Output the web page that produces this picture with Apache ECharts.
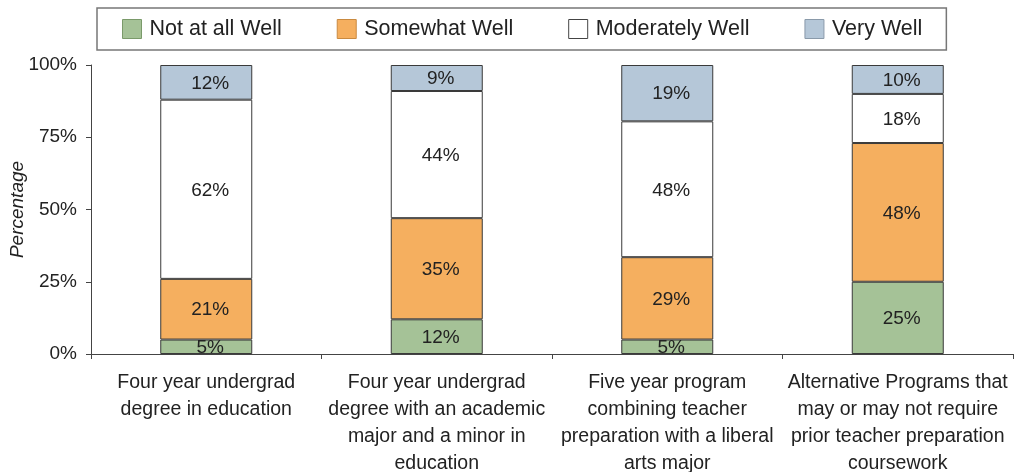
<!DOCTYPE html>
<html>
<head>
<meta charset="utf-8">
<script src="https://cdn.jsdelivr.net/npm/echarts@6/dist/echarts.min.js"></script>
<style>
  html, body { margin: 0; padding: 0; background: #fff; }
  #chart { width: 1016px; height: 472px; }
</style>
</head>
<body>
<div id="chart"></div>
<script>
// categories (x axis)
const categories = [
  'Four year undergrad\ndegree in education',
  'Four year undergrad\ndegree with an academic\nmajor and a minor in\neducation',
  'Five year program\ncombining teacher\npreparation with a liberal\narts major',
  'Alternative Programs that\nmay or may not require\nprior teacher preparation\ncoursework'
]
// bar heights
const notAtAll = [5, 12, 5, 25]
const somewhat = [21, 35, 28.5, 48]
const moderately = [62, 44, 47, 17]
const veryWell = [12, 9, 19.5, 10]
// printed labels
const notAtAllLbl = [5, 12, 5, 25]
const somewhatLbl = [21, 35, 29, 48]
const moderatelyLbl = [62, 44, 48, 18]
const veryWellLbl = [12, 9, 19, 10]

const chart = echarts.init(document.getElementById('chart'))

const font = 'Liberation Sans, Arial, sans-serif'

function seg (name, data, labels, color) {
  return {
    name: name,
    type: 'bar',
    stack: 'total',
    barWidth: 92,
    data: data,
    itemStyle: { color: color, borderColor: '#3a3a3a', borderWidth: 1 },
    label: {
      show: true,
      position: 'inside',
      offset: [4, 1],
      color: '#222',
      fontSize: 19,
      fontFamily: font,
      formatter: (p) => labels[p.dataIndex] + '%'
    },
    emphasis: { disabled: true }
  }
}

chart.setOption({
  animation: false,
  grid: { left: 91, right: 3, top: 65, bottom: 118, containLabel: false, outerBoundsMode: 'none' },
  legend: {
    left: 97,
    top: 8,
    padding: [10, 24, 10, 25],
    icon: 'rect',
    itemWidth: 19,
    itemHeight: 19,
    itemGap: 55,
    borderColor: '#777',
    borderWidth: 1.5,
    textStyle: { fontSize: 21.5, color: '#222', fontFamily: font, padding: [0, 0, 0, 3] },
    data: [
      { name: 'Not at all Well', itemStyle: { borderColor: '#7a9a6a', borderWidth: 1 } },
      { name: 'Somewhat Well', itemStyle: { borderColor: '#c98a40', borderWidth: 1 } },
      { name: 'Moderately Well', itemStyle: { borderColor: '#444', borderWidth: 1 } },
      { name: 'Very Well', itemStyle: { borderColor: '#8a9aaa', borderWidth: 1 } }
    ]
  },
  xAxis: {
    type: 'category',
    data: categories,
    axisLine: { lineStyle: { color: '#444', width: 1 } },
    axisTick: { show: true, length: 5, lineStyle: { color: '#444' } },
    axisLabel: {
      color: '#222',
      fontSize: 19.5,
      fontFamily: font,
      lineHeight: 27,
      margin: 15,
      interval: 0
    }
  },
  yAxis: {
    type: 'value',
    min: 0,
    max: 100,
    interval: 25,
    name: 'Percentage',
    nameLocation: 'middle',
    nameGap: 64,
    nameMoveOverlap: false,
    nameTextStyle: { fontSize: 19, fontStyle: 'italic', color: '#222', fontFamily: font },
    splitLine: { show: false },
    axisLine: { show: true, lineStyle: { color: '#444', width: 1 } },
    axisTick: { show: true, length: 5, lineStyle: { color: '#444' } },
    axisLabel: {
      color: '#222',
      fontSize: 19,
      fontFamily: font,
      margin: 14,
      formatter: '{value}%'
    }
  },
  series: [
    seg('Not at all Well', notAtAll, notAtAllLbl, '#a5c297'),
    seg('Somewhat Well', somewhat, somewhatLbl, '#f5af5f'),
    seg('Moderately Well', moderately, moderatelyLbl, '#ffffff'),
    seg('Very Well', veryWell, veryWellLbl, '#b5c7d8')
  ]
})
</script>
</body>
</html>
